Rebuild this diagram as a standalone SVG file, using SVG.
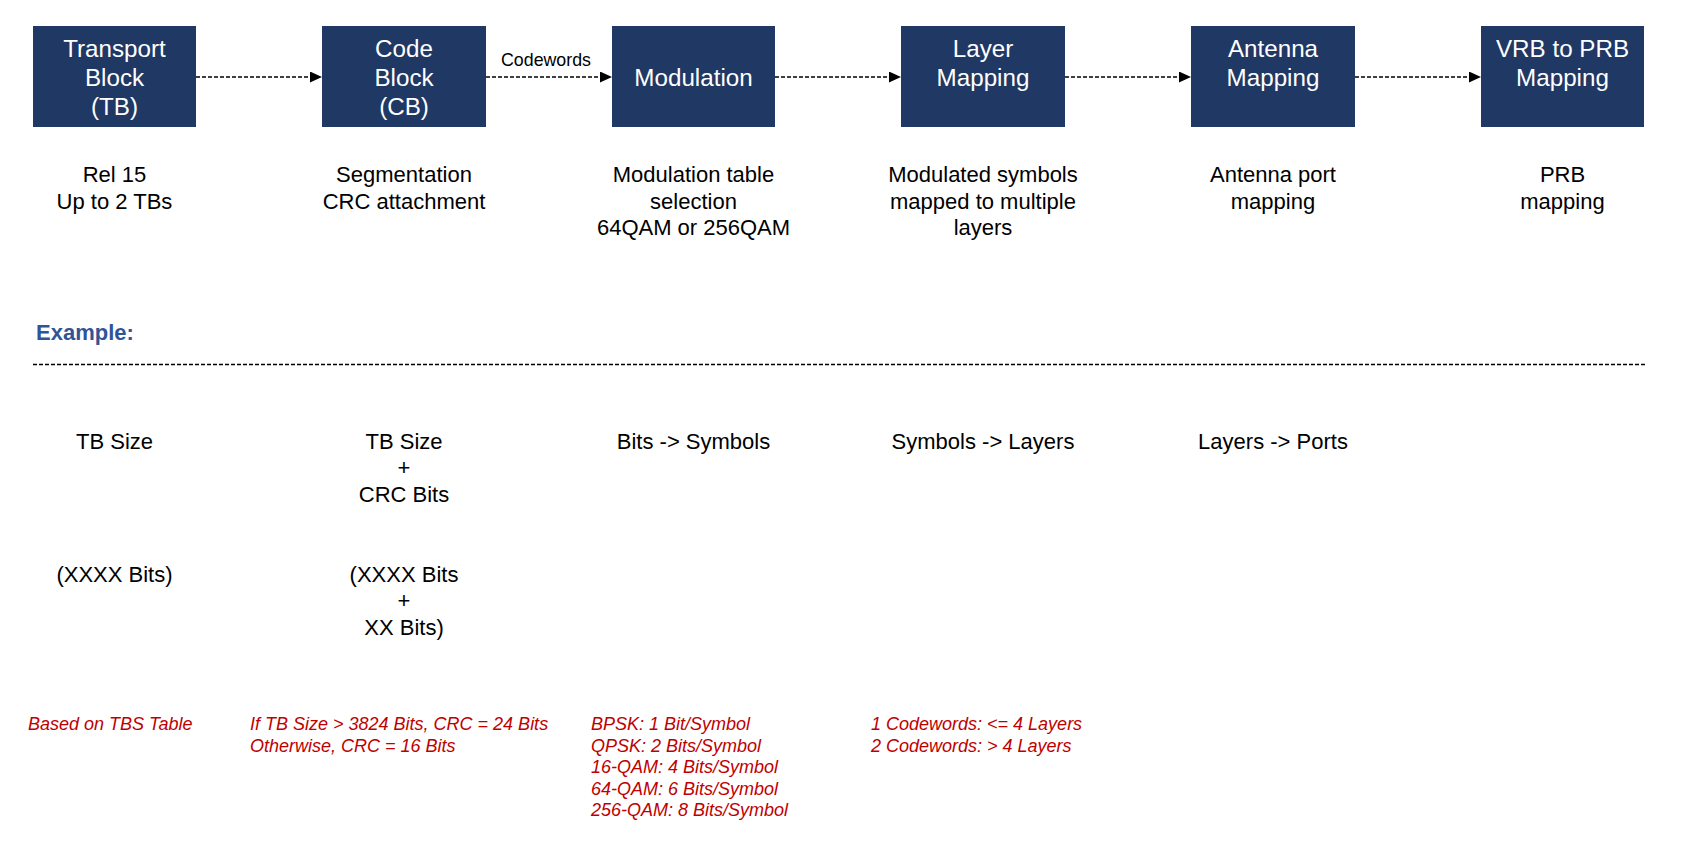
<svg xmlns="http://www.w3.org/2000/svg" width="1682" height="846" viewBox="0 0 1682 846">
<style>
.box{fill:#203864}
.bt{font-family:"Liberation Sans",Arial,sans-serif;font-size:24.2px;fill:#ffffff;text-anchor:middle}
.t{font-family:"Liberation Sans",Arial,sans-serif;font-size:22px;fill:#000000;text-anchor:middle}
.lbl{font-family:"Liberation Sans",Arial,sans-serif;font-size:17.8px;fill:#000000;text-anchor:middle}
.ex{font-family:"Liberation Sans",Arial,sans-serif;font-size:22px;font-weight:bold;fill:#2F5597}
.r{font-family:"Liberation Sans",Arial,sans-serif;font-size:18px;font-style:italic;fill:#C00000}
.c{stroke:#000;stroke-width:1.5;stroke-dasharray:4 2;fill:none}
</style>
<defs>
<marker id="ah" markerWidth="12" markerHeight="11" refX="12" refY="5.5" orient="auto" markerUnits="userSpaceOnUse">
<path d="M0,0 L12,5.5 L0,11 Z" fill="#000"/>
</marker>
</defs>
<g id="connectors">
<line class="c" x1="196" y1="77" x2="322" y2="77" marker-end="url(#ah)"/>
<line class="c" x1="486" y1="77" x2="612" y2="77" marker-end="url(#ah)"/>
<text class="lbl" x="546" y="66">Codewords</text>
<line class="c" x1="775" y1="77" x2="901" y2="77" marker-end="url(#ah)"/>
<line class="c" x1="1065" y1="77" x2="1191" y2="77" marker-end="url(#ah)"/>
<line class="c" x1="1355" y1="77" x2="1481" y2="77" marker-end="url(#ah)"/>
</g>
<g id="tb">
<rect class="box" x="33" y="26" width="163" height="101"/>
<text class="bt" x="114.5" y="57">Transport</text>
<text class="bt" x="114.5" y="86">Block</text>
<text class="bt" x="114.5" y="115">(TB)</text>
</g>
<g id="cb">
<rect class="box" x="322" y="26" width="164" height="101"/>
<text class="bt" x="404" y="57">Code</text>
<text class="bt" x="404" y="86">Block</text>
<text class="bt" x="404" y="115">(CB)</text>
</g>
<g id="mod">
<rect class="box" x="612" y="26" width="163" height="101"/>
<text class="bt" x="693.5" y="86">Modulation</text>
</g>
<g id="layer">
<rect class="box" x="901" y="26" width="164" height="101"/>
<text class="bt" x="983" y="57">Layer</text>
<text class="bt" x="983" y="86">Mapping</text>
</g>
<g id="antenna">
<rect class="box" x="1191" y="26" width="164" height="101"/>
<text class="bt" x="1273" y="57">Antenna</text>
<text class="bt" x="1273" y="86">Mapping</text>
</g>
<g id="vrb">
<rect class="box" x="1481" y="26" width="163" height="101"/>
<text class="bt" x="1562.5" y="57">VRB to PRB</text>
<text class="bt" x="1562.5" y="86">Mapping</text>
</g>
<g id="descriptions">
<text class="t" x="114.5" y="182">Rel 15</text>
<text class="t" x="114.5" y="208.5">Up to 2 TBs</text>
<text class="t" x="404" y="182">Segmentation</text>
<text class="t" x="404" y="208.5">CRC attachment</text>
<text class="t" x="693.5" y="182">Modulation table</text>
<text class="t" x="693.5" y="208.5">selection</text>
<text class="t" x="693.5" y="235">64QAM or 256QAM</text>
<text class="t" x="983" y="182">Modulated symbols</text>
<text class="t" x="983" y="208.5">mapped to multiple</text>
<text class="t" x="983" y="235">layers</text>
<text class="t" x="1273" y="182">Antenna port</text>
<text class="t" x="1273" y="208.5">mapping</text>
<text class="t" x="1562.5" y="182">PRB</text>
<text class="t" x="1562.5" y="208.5">mapping</text>
</g>
<g id="example">
<text class="ex" x="36" y="340">Example:</text>
<line class="c" x1="33" y1="364.5" x2="1646" y2="364.5"/>
<text class="t" x="114.5" y="448.5">TB Size</text>
<text class="t" x="404" y="448.5">TB Size</text>
<text class="t" x="404" y="475">+</text>
<text class="t" x="404" y="501.5">CRC Bits</text>
<text class="t" x="693.5" y="448.5">Bits -&gt; Symbols</text>
<text class="t" x="983" y="448.5">Symbols -&gt; Layers</text>
<text class="t" x="1273" y="448.5">Layers -&gt; Ports</text>
<text class="t" x="114.5" y="581.5">(XXXX Bits)</text>
<text class="t" x="404" y="581.5">(XXXX Bits</text>
<text class="t" x="404" y="608">+</text>
<text class="t" x="404" y="634.5">XX Bits)</text>
</g>
<g id="notes">
<text class="r" x="28" y="730">Based on TBS Table</text>
<text class="r" x="250" y="730">If TB Size &gt; 3824 Bits, CRC = 24 Bits</text>
<text class="r" x="250" y="751.5">Otherwise, CRC = 16 Bits</text>
<text class="r" x="591" y="730">BPSK: 1 Bit/Symbol</text>
<text class="r" x="591" y="751.5">QPSK: 2 Bits/Symbol</text>
<text class="r" x="591" y="773">16-QAM: 4 Bits/Symbol</text>
<text class="r" x="591" y="794.5">64-QAM: 6 Bits/Symbol</text>
<text class="r" x="591" y="816">256-QAM: 8 Bits/Symbol</text>
<text class="r" x="871" y="730">1 Codewords: &lt;= 4 Layers</text>
<text class="r" x="871" y="751.5">2 Codewords: &gt; 4 Layers</text>
</g>
</svg>
